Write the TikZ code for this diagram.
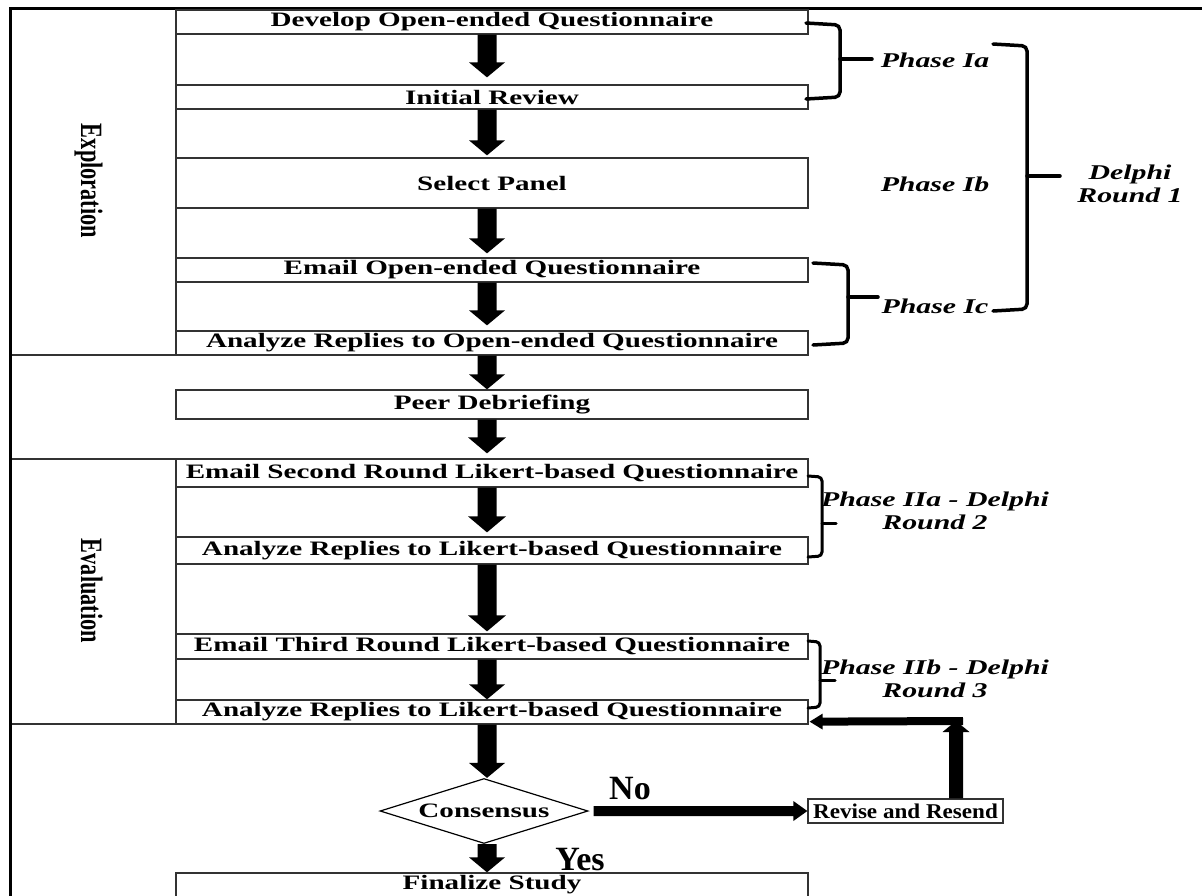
\documentclass[tikz,border=0pt]{standalone}
\usepackage{fontspec}
\setmainfont{Liberation Serif}
\newfontfamily\widefont[FakeStretch=1.42]{Liberation Serif}
\newfontfamily\midfont[FakeStretch=1.1]{Liberation Serif}
\newfontfamily\narrowfont[FakeStretch=0.72]{Liberation Serif}
\usetikzlibrary{calc,shapes.geometric}

\newcommand\blockarrow[5]{%
  \coordinate (ba-s) at (#1);
  \coordinate (ba-e) at (#2);
  \coordinate (ba-h) at ($(ba-e)!#5!(ba-s)$);
  \fill[black] ($(ba-s)!#3!90:(ba-e)$) -- ($(ba-h)!#3!-90:(ba-s)$) -- ($(ba-h)!#4!-90:(ba-s)$)
     -- (ba-e) -- ($(ba-h)!#4!90:(ba-s)$) -- ($(ba-h)!#3!90:(ba-s)$) -- ($(ba-s)!#3!-90:(ba-e)$) -- cycle;
}

\tikzset{
  stepbox/.style={draw=black!80, line width=1.3pt, fill=white, rectangle, inner sep=0pt,
    minimum width=632pt, font=\widefont\bfseries\fontsize{20.5pt}{22pt}\selectfont},
  phase/.style={inner sep=0pt, font=\widefont\bfseries\itshape\fontsize{21pt}{23.5pt}\selectfont},
  sidelabel/.style={inner sep=0pt, rotate=-90, anchor=base, font=\narrowfont\bfseries\fontsize{31pt}{32pt}\selectfont},
  answer/.style={inner sep=0pt, anchor=base, font=\bfseries\fontsize{34pt}{36pt}\selectfont},
  bracket/.style={draw=black, line width=3.5pt, rounded corners=5pt, line cap=round},
  cell/.style={draw=black!80, line width=1.3pt}
}

\begin{document}
\begin{tikzpicture}[x=1pt, y=-1pt]
\useasboundingbox (0,0) rectangle (1202,895);
\clip (0,0) rectangle (1202,895);
\fill[white] (0,0) rectangle (1202,895);

% frame cells
\draw[cell] (10,8) rectangle (176,355);
\draw[cell] (10,459) rectangle (176,724);
\draw[line width=3pt] (10,897) -- (10,8) -- (1204,8);

\node[sidelabel] (explo) at (81,181) {Exploration};
\node[sidelabel] (evalu) at (81,591) {Evaluation};

% boxes
\node[stepbox, minimum height=24pt] (develop) at (492,22) {Develop Open-ended Questionnaire};
\node[stepbox, minimum height=24pt] (initial) at (492,97) {Initial Review};
\node[stepbox, minimum height=50pt] (select) at (492,183) {Select Panel};
\node[stepbox, minimum height=24pt] (emailopen) at (492,270) {Email Open-ended Questionnaire};
\node[stepbox, minimum height=24pt] (analyzeopen) at (492,343) {Analyze Replies to Open-ended Questionnaire};
\node[stepbox, minimum height=29pt] (peer) at (492,404.5) {Peer Debriefing};
\node[stepbox, minimum height=28pt] (emailtwo) at (492,473) {Email Second Round Likert-based Questionnaire};
\node[stepbox, minimum height=27pt] (analyzetwo) at (492,550.5) {Analyze Replies to Likert-based Questionnaire};
\node[stepbox, minimum height=25pt] (emailthree) at (492,646.5) {Email Third Round Likert-based Questionnaire};
\node[stepbox, minimum height=24pt] (analyzethree) at (492,712) {Analyze Replies to Likert-based Questionnaire};
\node[stepbox, minimum height=24pt] (final) at (492,885) {Finalize Study};

\node[draw=black, line width=1.2pt, diamond, aspect=3.2, minimum width=208pt, minimum height=65pt,
  inner sep=0pt, font=\widefont\bfseries\fontsize{20.5pt}{22pt}\selectfont] (cons) at (484,811) {Consensus};
\node[stepbox, minimum width=195pt, minimum height=24pt,
  font=\midfont\bfseries\fontsize{21pt}{22pt}\selectfont] (revise) at (905.5,811) {Revise and Resend};

% block arrows
\coordinate (ax) at (487,0);
\blockarrow{ax |- develop.south}{$(ax |- initial.north)+(0,-7)$}{9.5pt}{18pt}{15pt}
\blockarrow{ax |- initial.south}{$(ax |- select.north)+(0,-2)$}{9.5pt}{18pt}{15pt}
\blockarrow{ax |- select.south}{$(ax |- emailopen.north)+(0,-4)$}{9.5pt}{18pt}{15pt}
\blockarrow{ax |- emailopen.south}{$(ax |- analyzeopen.north)+(0,-5)$}{9.5pt}{18pt}{15pt}
\blockarrow{ax |- analyzeopen.south}{ax |- peer.north}{9.5pt}{18pt}{15pt}
\blockarrow{ax |- peer.south}{$(ax |- emailtwo.north)+(0,-5)$}{9.5pt}{19pt}{16pt}
\blockarrow{ax |- emailtwo.south}{$(ax |- analyzetwo.north)+(0,-4)$}{9.5pt}{19pt}{16pt}
\blockarrow{ax |- analyzetwo.south}{$(ax |- emailthree.north)+(0,-2)$}{9.5pt}{19pt}{16pt}
\blockarrow{ax |- emailthree.south}{ax |- analyzethree.north}{9.5pt}{18pt}{15pt}
\blockarrow{ax |- analyzethree.south}{ax |- cons.north}{9.5pt}{18pt}{15pt}
\blockarrow{ax |- cons.south}{ax |- final.north}{9.5pt}{18pt}{15pt}

\blockarrow{$(cons.east)+(5,0)$}{revise.west}{5pt}{10pt}{14pt}
\coordinate (fbcorner) at (956,721);
\blockarrow{$(revise.north)+(50.5,0)$}{fbcorner}{7pt}{13.5pt}{11pt}
\blockarrow{$(fbcorner)+(7,0)$}{$(analyzethree.south east)+(1,-3)$}{4pt}{8pt}{13pt}

\node[answer] (no) at (630,799) {No};
\node[answer] (yes) at (580,870) {Yes};

% brackets
\draw[bracket] (806,23) -- (840,25) -- (840,97) -- (806,99);
\draw[bracket] (840,59) -- (872,59);
\draw[bracket] (993,44) -- (1027,46) -- (1027,309) -- (993,311);
\draw[bracket] (1027,176) -- (1060,176);
\draw[bracket] (813,263) -- (848,265) -- (848,343) -- (813,345);
\draw[bracket] (848,297) -- (878,297);
\draw[bracket, line width=3pt, rounded corners=4pt] (808,476) -- (822,477) -- (822,556) -- (808,557);
\draw[bracket, line width=3pt] (822,523) -- (836,523);
\draw[bracket, line width=3pt, rounded corners=4pt] (808,641) -- (820,642) -- (820,707) -- (808,708);
\draw[bracket, line width=3pt] (820,680) -- (835,680);

% phase labels
\node[phase] (pia) at (935,60) {Phase Ia};
\node[phase] (pib) at (935,184) {Phase Ib};
\node[phase] (pic) at (935,306) {Phase Ic};
\node[phase, align=center] (delphi) at (1130,184) {Delphi\\Round 1};
\node[phase, align=center] (piia) at (935,511) {Phase IIa - Delphi\\Round 2};
\node[phase, align=center] (piib) at (935,679) {Phase IIb - Delphi\\Round 3};
\end{tikzpicture}
\end{document}
